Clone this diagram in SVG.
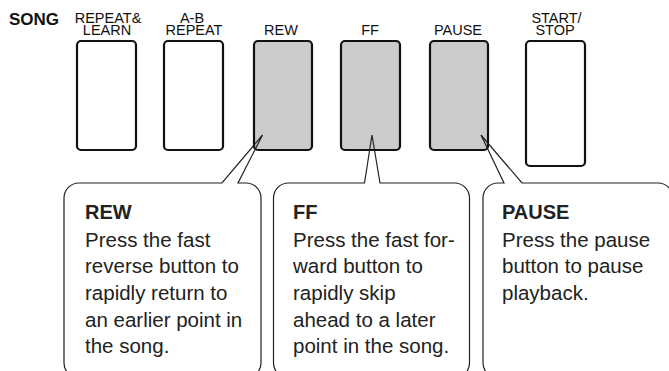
<svg xmlns="http://www.w3.org/2000/svg" width="669" height="371" viewBox="0 0 669 371">
  <style>
    .btn { stroke: #111; stroke-width: 2.2; }
    .lit { fill: #cbcbcb; }
    .off { fill: #ffffff; }
    .lbl { font-family: "Liberation Sans", Arial, sans-serif; font-size: 14.5px; fill: #111; text-anchor: middle; }
    .song { font-family: "Liberation Sans", Arial, sans-serif; font-size: 17px; font-weight: bold; fill: #111; }
    .call { fill: none; stroke: #222; stroke-width: 1.2; stroke-linejoin: miter; }
    .ttl { font-family: "Liberation Sans", Arial, sans-serif; font-size: 20px; font-weight: bold; fill: #222; }
    .body { font-family: "Liberation Sans", Arial, sans-serif; font-size: 20.5px; fill: #222; }
  </style>
  <rect width="669" height="371" fill="#ffffff"/>
  <text class="song" x="9" y="25">SONG</text>

  <g id="btn-repeat-learn">
    <text class="lbl"><tspan x="108" y="23.3">REPEAT&amp;</tspan><tspan x="107" y="35">LEARN</tspan></text>
    <rect class="btn off" x="77" y="41" width="59" height="109" rx="4"/>
  </g>
  <g id="btn-ab-repeat">
    <text class="lbl"><tspan x="192" y="23.3">A-B</tspan><tspan x="194" y="35">REPEAT</tspan></text>
    <rect class="btn off" x="164" y="41" width="59" height="109" rx="4"/>
  </g>
  <g id="btn-rew">
    <text class="lbl" x="281" y="35">REW</text>
    <rect class="btn lit" x="254" y="41" width="58" height="109" rx="4"/>
  </g>
  <g id="btn-ff">
    <text class="lbl" x="370" y="35">FF</text>
    <rect class="btn lit" x="341" y="41" width="59" height="109" rx="4"/>
  </g>
  <g id="btn-pause">
    <text class="lbl" x="458" y="35">PAUSE</text>
    <rect class="btn lit" x="430" y="41" width="58" height="109" rx="4"/>
  </g>
  <g id="btn-start-stop">
    <text class="lbl"><tspan x="556.5" y="23.3">START/</tspan><tspan x="555" y="35">STOP</tspan></text>
    <rect class="btn off" x="526" y="41" width="59" height="125" rx="4"/>
  </g>

  <g id="connectors">
    <path class="call" d="M 238 183 H 246 A 15 15 0 0 1 261 198 V 363 A 15 15 0 0 1 246 378 H 79 A 15 15 0 0 1 64 363 V 198 A 15 15 0 0 1 79 183 H 222 L 262.5 135 Z"/>
    <path class="call" d="M 380 183 H 454.5 A 15 15 0 0 1 469.5 198 V 363 A 15 15 0 0 1 454.5 378 H 288.5 A 15 15 0 0 1 273.5 363 V 198 A 15 15 0 0 1 288.5 183 H 364.5 L 372 135 Z"/>
    <path class="call" d="M 522 183 H 658 A 15 15 0 0 1 673 198 V 363 A 15 15 0 0 1 658 378 H 498 A 15 15 0 0 1 483 363 V 198 A 15 15 0 0 1 498 183 H 504 L 481 135 Z"/>
  </g>

  <g id="note-rew">
    <text class="ttl" x="85" y="219.3">REW</text>
    <text class="body" x="85" y="246.7">Press the fast</text>
    <text class="body" x="85" y="273.3">reverse button to</text>
    <text class="body" x="85" y="300">rapidly return to</text>
    <text class="body" x="85" y="326.7">an earlier point in</text>
    <text class="body" x="85" y="353.3">the song.</text>
  </g>
  <g id="note-ff">
    <text class="ttl" x="293" y="219.3">FF</text>
    <text class="body" x="293" y="246.7">Press the fast for-</text>
    <text class="body" x="293" y="273.3">ward button to</text>
    <text class="body" x="293" y="300">rapidly skip</text>
    <text class="body" x="293" y="326.7">ahead to a later</text>
    <text class="body" x="293" y="353.3">point in the song.</text>
  </g>
  <g id="note-pause">
    <text class="ttl" x="502" y="219.3">PAUSE</text>
    <text class="body" x="502" y="246.7">Press the pause</text>
    <text class="body" x="502" y="273.3">button to pause</text>
    <text class="body" x="502" y="300">playback.</text>
  </g>
</svg>
